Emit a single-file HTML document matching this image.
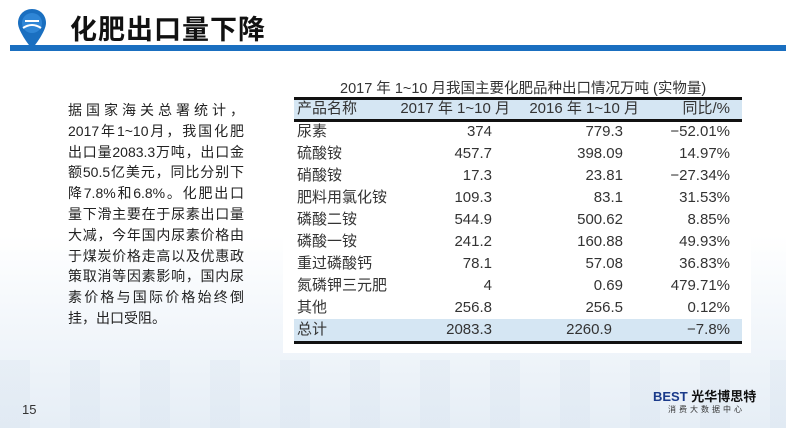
<!DOCTYPE html>
<html><head><meta charset="utf-8"><style>
body{margin:0;width:786px;height:428px;overflow:hidden;position:relative;font-family:"Liberation Sans","Noto Sans CJK SC",sans-serif;background:linear-gradient(#fff 0,#fff 55%,#f3f7fb 75%,#e6eef6 100%);}
.a{position:absolute}
.bar{left:10px;top:45px;width:776px;height:6px;background:#1a6fc0}
.title{left:70px;top:8px;font-size:27px;font-weight:bold;color:#111;letter-spacing:1px}
.txt{left:68px;top:100px;width:176px;font-size:14px;color:#222;line-height:20.8px}
.txt div{text-align:justify;text-align-last:justify;white-space:nowrap}
.txt div.l{text-align-last:left}
.tb{left:283px;top:63px;width:468px;height:290px;background:#fff}
.row{position:absolute;left:294px;width:448px;height:22px;font-size:15px;color:#333;line-height:22px}
.row span{position:absolute}
.c0{left:3px}.c1{right:250px}.c2{right:119px}.c3{right:12px}
.bld{position:absolute;left:294px;width:448px;height:3px;background:#111}
</style></head><body>
<div class="a" style="left:0;top:360px;width:786px;height:68px;background:repeating-linear-gradient(90deg,rgba(200,215,230,.18) 0 30px,transparent 30px 70px)"></div>
<svg class="a" style="left:17px;top:8px" width="30" height="42" viewBox="0 0 30 42"><path d="M15 1C7 1 1 7 1 15c0 9 14 26 14 26s14-17 14-26C29 7 23 1 15 1z" fill="#1a6fc0"/><circle cx="15" cy="15" r="10" fill="#2f86d6"/><path d="M6 20q9-6 18 0" stroke="#fff" stroke-width="2" fill="none"/><path d="M8 13h14" stroke="#fff" stroke-width="2"/></svg>
<div class="a title">化肥出口量下降</div>
<div class="a bar"></div>
<div class="a txt">
<div>据国家海关总署统计，</div><div>2017年1~10月，我国化肥</div><div>出口量2083.3万吨，出口金</div><div>额50.5亿美元，同比分别下</div><div>降7.8%和6.8%。化肥出口</div><div>量下滑主要在于尿素出口量</div><div>大减，今年国内尿素价格由</div><div>于煤炭价格走高以及优惠政</div><div>策取消等因素影响，国内尿</div><div>素价格与国际价格始终倒</div><div class="l">挂，出口受阻。</div>
</div>
<div class="a tb"></div>
<div class="a" style="left:340px;top:77px;font-size:14.5px;color:#333;white-space:nowrap">2017 年 1~10 月我国主要化肥品种出口情况万吨 (实物量)</div>
<div class="a" style="left:294px;top:100px;width:448px;height:20px;background:#d5e6f3"></div>
<div class="a" style="left:294px;top:319px;width:448px;height:22px;background:#d5e6f3"></div>
<div class="bld" style="top:97px"></div>
<div class="bld" style="top:119px"></div>
<div class="bld" style="top:341px"></div>
<div class="row" style="top:98px"><span class="c0">产品名称</span><span class="c1" style="right:232px">2017 年 1~10 月</span><span class="c2" style="right:103px">2016 年 1~10 月</span><span class="c3">同比/%</span></div>
<div class="row" style="top:121px"><span class="c0">尿素</span><span class="c1">374</span><span class="c2">779.3</span><span class="c3">−52.01%</span></div>
<div class="row" style="top:143px"><span class="c0">硫酸铵</span><span class="c1">457.7</span><span class="c2">398.09</span><span class="c3">14.97%</span></div>
<div class="row" style="top:165px"><span class="c0">硝酸铵</span><span class="c1">17.3</span><span class="c2">23.81</span><span class="c3">−27.34%</span></div>
<div class="row" style="top:187px"><span class="c0">肥料用氯化铵</span><span class="c1">109.3</span><span class="c2">83.1</span><span class="c3">31.53%</span></div>
<div class="row" style="top:209px"><span class="c0">磷酸二铵</span><span class="c1">544.9</span><span class="c2">500.62</span><span class="c3">8.85%</span></div>
<div class="row" style="top:231px"><span class="c0">磷酸一铵</span><span class="c1">241.2</span><span class="c2">160.88</span><span class="c3">49.93%</span></div>
<div class="row" style="top:253px"><span class="c0">重过磷酸钙</span><span class="c1">78.1</span><span class="c2">57.08</span><span class="c3">36.83%</span></div>
<div class="row" style="top:275px"><span class="c0">氮磷钾三元肥</span><span class="c1">4</span><span class="c2">0.69</span><span class="c3">479.71%</span></div>
<div class="row" style="top:297px"><span class="c0">其他</span><span class="c1">256.8</span><span class="c2">256.5</span><span class="c3">0.12%</span></div>
<div class="row" style="top:319px"><span class="c0">总计</span><span class="c1">2083.3</span><span class="c2" style="right:130px">2260.9</span><span class="c3">−7.8%</span></div>
<div class="a" style="left:22px;top:402px;font-size:13px;color:#333">15</div>
<div class="a" style="left:653px;top:386px;font-size:13px;font-weight:bold;color:#1a3a8a;white-space:nowrap">BEST<span style="color:#111"> 光华博思特</span></div>
<div class="a" style="left:668px;top:404px;font-size:8px;color:#333;letter-spacing:3px">消费大数据中心</div>
</body></html>
